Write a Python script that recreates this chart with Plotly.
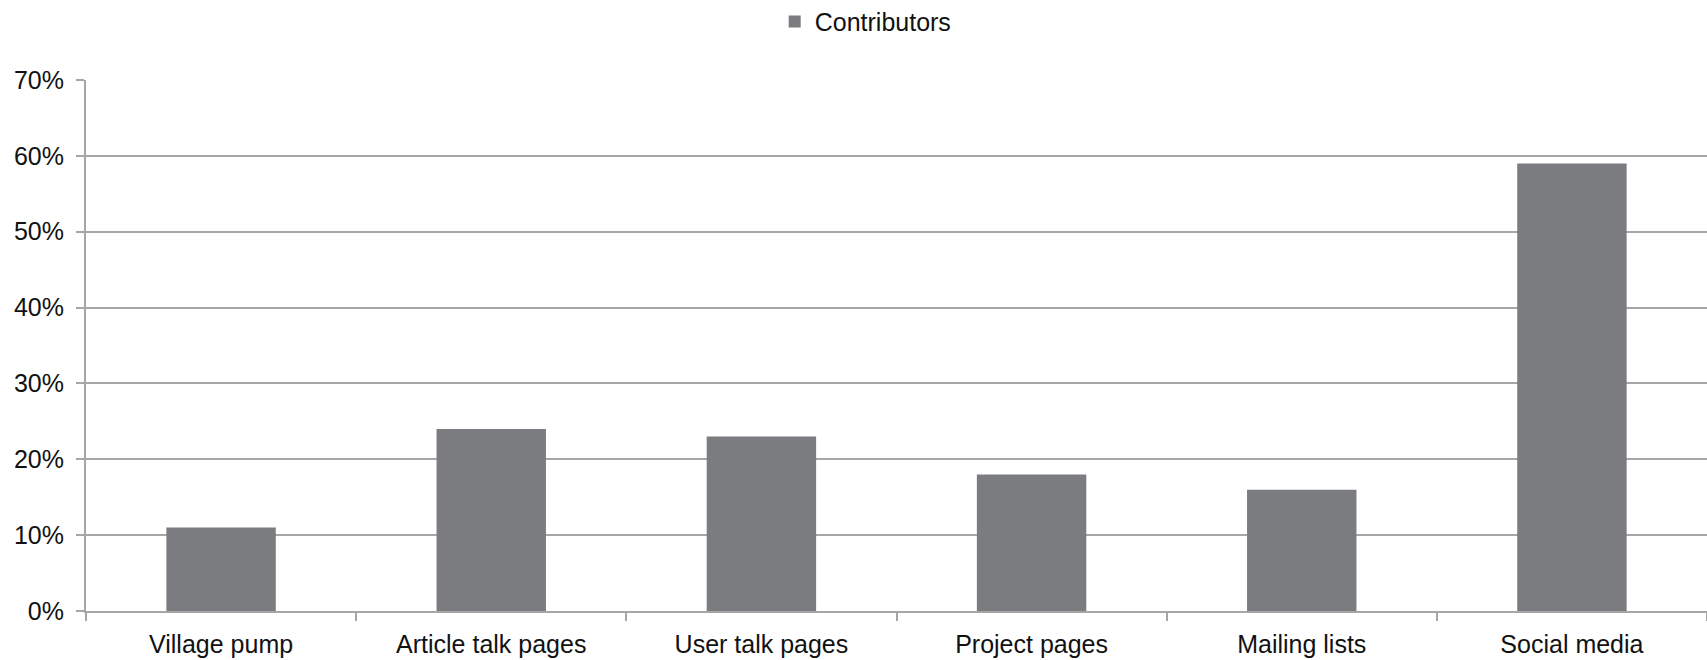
import plotly.graph_objects as go

categories = ["Village pump", "Article talk pages", "User talk pages",
              "Project pages", "Mailing lists", "Social media"]
contributors = [0.11, 0.24, 0.23, 0.18, 0.16, 0.59]
series_name = "Contributors"
y_ticks = [0, 0.1, 0.2, 0.3, 0.4, 0.5, 0.6, 0.7]
y_tick_labels = ["0%", "10%", "20%", "30%", "40%", "50%", "60%", "70%"]

FONT = "Liberation Sans"

fig = go.Figure()
fig.add_trace(go.Bar(
    x=categories, y=contributors, name=series_name,
    marker=dict(color="#7b7c80", line=dict(width=0)),
    showlegend=True,
))

fig.update_layout(
    width=1707, height=660,
    margin=dict(l=86, r=0, t=80, b=49, autoexpand=False),
    paper_bgcolor="white", plot_bgcolor="white",
    bargap=0.595,
    font=dict(family=FONT, size=25, color="#111111"),
    showlegend=True,
    legend=dict(orientation="h", x=0.481, xanchor="center",
                y=0.967, yref="container", yanchor="middle",
                font=dict(size=25), bgcolor="rgba(0,0,0,0)"),
    xaxis=dict(
        showgrid=False, showline=True, linecolor="#a6a6a6", linewidth=2,
        ticks="outside", tickson="boundaries", ticklen=8, tickcolor="#a6a6a6", tickwidth=2,
        tickfont=dict(size=25, family=FONT, color="#111111"),
        ticklabelstandoff=10,
        range=[-0.5, 5.5], automargin=False,
    ),
    yaxis=dict(
        range=[0, 0.7], tickvals=y_ticks, ticktext=y_tick_labels,
        showgrid=True, gridcolor="#a6a6a6", gridwidth=2,
        showline=True, linecolor="#a6a6a6", linewidth=2,
        ticks="outside", ticklen=8, tickcolor="#a6a6a6", tickwidth=2,
        tickfont=dict(size=25, family=FONT, color="#111111"),
        ticklabelstandoff=7,
        zeroline=False, automargin=False,
    ),
)

fig.write_html("out.html", config={"displayModeBar": False},
               post_script="document.body.style.margin='0';document.body.style.overflow='hidden';")
